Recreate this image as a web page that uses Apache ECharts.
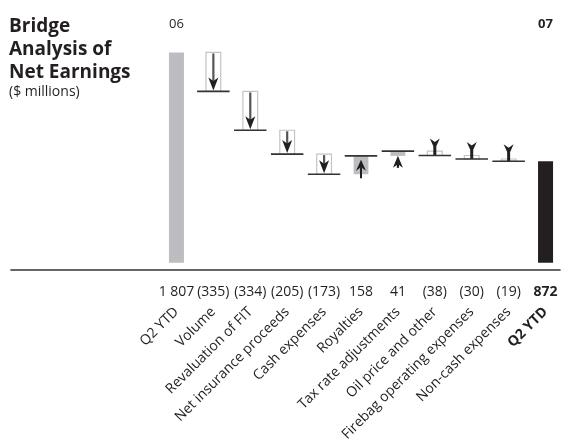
<!DOCTYPE html>
<html>
<head>
<meta charset="utf-8">
<script src="https://cdn.jsdelivr.net/npm/echarts@6/dist/echarts.min.js"></script>
<style>
  html, body { margin: 0; padding: 0; background: #ffffff; }
  #chart { width: 564px; height: 444px; }
</style>
</head>
<body>
<div id="chart"></div>
<script>
// Bridge of net earnings, Q2 YTD 06 -> Q2 YTD 07 ($ millions)
const categories = [
  'Q2 YTD', 'Volume', 'Revaluation of FIT', 'Net insurance proceeds',
  'Cash expenses', 'Royalties', 'Tax rate adjustments', 'Oil price and other',
  'Firebag operating expenses', 'Non-cash expenses', 'Q2 YTD'
];
const years = ['06', '07'];
const startTotal = 1807;
const deltas = [-335, -334, -205, -173, 158, 41, -38, -30, -19];
const endTotal = 872;

// Labels under the axis: totals and changes, negatives in brackets
const valueLabels = [startTotal].concat(deltas, [endTotal]);

const INK = '#231f20';
const FONT = '"Open Sans", "Noto Sans", sans-serif';

function fmt(v) {
  const s = String(Math.abs(v)).replace(/\B(?=(\d{3})+(?!\d))/g, ' ');
  return v < 0 ? '(' + s + ')' : s;
}

// Total bars (first and last column)
const last = categories.length - 1;
const barData = categories.map(function (c, i) {
  if (i === 0) return { value: startTotal, itemStyle: { color: '#bcbdc1' } };
  if (i === last) return { value: endTotal, itemStyle: { color: INK } };
  return '-';
});

// Step items: [column, level before, level after]
const steps = [];
let level = startTotal;
deltas.forEach(function (d, k) {
  steps.push([k + 1, level, level + d]);
  level += d;
});

function headPoints(cx, tipY, dir, w, h, notch) {
  // dir = 1 points down, -1 points up
  return [
    [cx, tipY],
    [cx + w / 2, tipY - dir * h],
    [cx, tipY - dir * (h - notch)],
    [cx - w / 2, tipY - dir * h]
  ];
}

function renderStep(params, api) {
  const idx = api.value(0);
  const before = api.value(1);
  const after = api.value(2);
  const pBefore = api.coord([idx, before]);
  const pAfter = api.coord([idx, after]);
  const band = api.size([1, 0])[0];
  const cx = pBefore[0];
  const yB = pBefore[1];
  const yA = pAfter[1];
  const boxW = band * 0.4;
  const lineHalf = band * 0.44;
  const hw = 10, hh = 11, notch = 3.5;
  const children = [];
  const down = after < before;
  const top = Math.min(yA, yB);
  const hgt = Math.abs(yA - yB);

  if (down) {
    children.push({
      type: 'rect',
      shape: { x: cx - boxW / 2, y: top, width: boxW, height: hgt },
      style: { fill: '#ffffff', stroke: '#c4c4c6', lineWidth: 1.2 }
    });
    if (hgt >= 20) {
      children.push({
        type: 'line',
        shape: { x1: cx, y1: yB + 1, x2: cx, y2: yA - hh + notch },
        style: { stroke: '#555555', lineWidth: 2.2 }
      });
      children.push({
        type: 'polygon',
        shape: { points: headPoints(cx, yA - 1, 1, hw, hh + 2, notch) },
        style: { fill: INK }
      });
    } else {
      children.push({
        type: 'line',
        shape: { x1: cx, y1: yA - 9, x2: cx, y2: yA },
        style: { stroke: INK, lineWidth: 3 }
      });
      children.push({
        type: 'polygon',
        shape: { points: headPoints(cx, yA - 6, 1, hw, hh, notch) },
        style: { fill: INK }
      });
    }
  } else {
    children.push({
      type: 'rect',
      shape: { x: cx - boxW / 2, y: top, width: boxW, height: hgt },
      style: { fill: '#bcbdc1' }
    });
    if (hgt >= 15) {
      children.push({
        type: 'line',
        shape: { x1: cx, y1: yA + 4 + hh - notch, x2: cx, y2: yB + 4 },
        style: { stroke: INK, lineWidth: 2 }
      });
      children.push({
        type: 'polygon',
        shape: { points: headPoints(cx, yA + 4, -1, hw, hh, notch) },
        style: { fill: INK }
      });
    } else {
      children.push({
        type: 'line',
        shape: { x1: cx, y1: yB + hh - notch, x2: cx, y2: yB + 12 },
        style: { stroke: INK, lineWidth: 2.2 }
      });
      children.push({
        type: 'polygon',
        shape: { points: headPoints(cx, yB, -1, hw, hh + 1, notch) },
        style: { fill: INK }
      });
    }
  }
  children.push({
    type: 'line',
    shape: { x1: cx - lineHalf, y1: yA, x2: cx + lineHalf, y2: yA },
    style: { stroke: '#333333', lineWidth: 1.6 }
  });
  return { type: 'group', children: children };
}

const chart = echarts.init(document.getElementById('chart'), null, { renderer: 'canvas' });

chart.setOption({
  animation: false,
  backgroundColor: '#ffffff',
  textStyle: { fontFamily: FONT },
  title: {
    text: 'Bridge\nAnalysis of\nNet Earnings',
    subtext: '($ millions)',
    left: 9,
    top: 15,
    itemGap: 0,
    padding: 0,
    textStyle: { fontFamily: FONT, fontSize: 19, fontWeight: 'bold', color: INK, lineHeight: 23 },
    subtextStyle: { fontFamily: FONT, fontSize: 14, color: INK, lineHeight: 17 }
  },
  grid: [
    { left: 158, right: 0, top: 30, bottom: 174 },
    { left: 11, right: 4, top: 30, bottom: 174 }
  ],
  xAxis: [
    {
      gridIndex: 0, type: 'category', data: categories, position: 'bottom',
      axisLine: { show: false }, axisTick: { show: false },
      axisLabel: {
        interval: 0, margin: 22, fontSize: 14, color: INK, fontFamily: FONT,
        formatter: function (v, i) {
          return i === last ? '{b|' + fmt(valueLabels[i]) + '}' : fmt(valueLabels[i]);
        },
        rich: { b: { fontWeight: 'bold', fontSize: 14, color: INK, fontFamily: FONT } }
      }
    },
    {
      gridIndex: 0, type: 'category', data: categories, position: 'bottom',
      axisLine: { show: false }, axisTick: { show: false },
      axisLabel: {
        interval: 0, margin: 47, rotate: 45, fontSize: 14, color: INK, fontFamily: FONT,
        formatter: function (v, i) {
          return i === last ? '{b|' + v + '}' : v;
        },
        rich: { b: { fontWeight: 'bold', fontSize: 14, color: INK, fontFamily: FONT } }
      }
    },
    {
      gridIndex: 0, type: 'category', data: categories, position: 'top',
      axisLine: { show: false }, axisTick: { show: false },
      axisLabel: {
        interval: 0, margin: -1, fontSize: 13, color: INK, fontFamily: FONT,
        formatter: function (v, i) {
          if (i === 0) return years[0];
          if (i === last) return '{b|' + years[1] + '}';
          return '';
        },
        rich: { b: { fontWeight: 'bold', fontSize: 13, color: INK, fontFamily: FONT } }
      }
    },
    {
      gridIndex: 1, type: 'value', min: 0, max: 1,
      axisLine: { show: true, lineStyle: { color: '#333333', width: 1.6 } },
      axisTick: { show: false }, axisLabel: { show: false }, splitLine: { show: false }
    }
  ],
  yAxis: [
    { gridIndex: 0, type: 'value', min: 0, max: 2000, show: false, splitLine: { show: false } },
    { gridIndex: 1, type: 'value', min: 0, max: 1, show: false, splitLine: { show: false } }
  ],
  series: [
    {
      type: 'bar', xAxisIndex: 0, yAxisIndex: 0, data: barData,
      barWidth: 15, z: 1
    },
    {
      type: 'custom', xAxisIndex: 0, yAxisIndex: 0, data: steps,
      renderItem: renderStep, z: 3
    }
  ]
});
</script>
</body>
</html>
